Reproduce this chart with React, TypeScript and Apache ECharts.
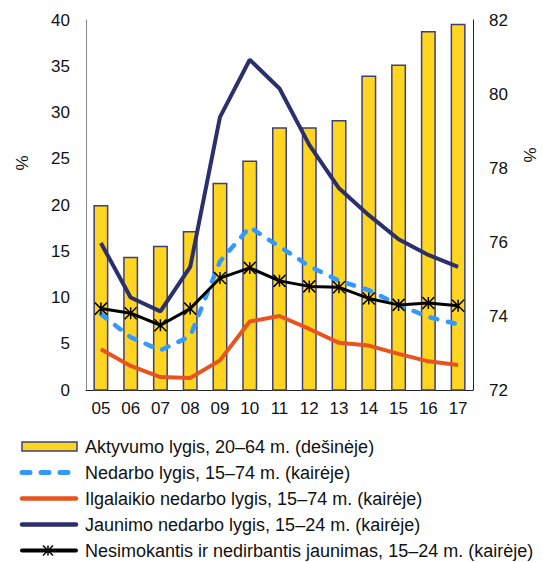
import React, { useEffect, useRef } from "react";
import * as echarts from "echarts";

const categories = ["05", "06", "07", "08", "09", "10", "11", "12", "13", "14", "15", "16", "17"];
const activityRate = [77.0, 75.6, 75.9, 76.3, 77.6, 78.2, 79.1, 79.1, 79.3, 80.5, 80.8, 81.7, 81.9];
const unemploymentRate = [8.2, 5.7, 4.3, 5.8, 13.9, 17.6, 15.5, 13.4, 11.8, 10.8, 9.2, 7.9, 7.1];
const longTermUnemployment = [4.4, 2.6, 1.4, 1.3, 3.2, 7.4, 8.0, 6.6, 5.1, 4.8, 3.9, 3.1, 2.7];
const youthUnemployment = [15.9, 10.0, 8.5, 13.3, 29.5, 35.7, 32.6, 26.5, 21.8, 18.9, 16.3, 14.6, 13.3];
const neetRate = [8.8, 8.3, 7.0, 8.8, 12.1, 13.2, 11.8, 11.2, 11.1, 9.9, 9.2, 9.4, 9.1];

const seriesNames = [
  "Aktyvumo lygis, 20–64 m. (dešinėje)",
  "Nedarbo lygis, 15–74 m. (kairėje)",
  "Ilgalaikio nedarbo lygis, 15–74 m. (kairėje)",
  "Jaunimo nedarbo lygis, 15–24 m. (kairėje)",
  "Nesimokantis ir nedirbantis jaunimas, 15–24 m. (kairėje)",
];

const FONT = "Liberation Sans, Arial, sans-serif";
const GOLD = "#FFD520";
const BAR_BORDER = "#3C4077";
const BLUE = "#3399FF";
const ORANGE = "#E8531E";
const NAVY = "#2B2F6B";
const STAR = "path://M0 0L10 10M10 0L0 10M5 0L5 10";

function buildLegend() {
  const els: any[] = [];
  const x0 = 20;
  const x1 = 76;
  const textX = 85;
  seriesNames.forEach((name, i) => {
    const y = 446.5 + 26 * i;
    if (i === 0) {
      els.push({
        type: "rect",
        shape: { x: 22, y: y - 4.5, width: 55, height: 9 },
        style: { fill: GOLD, stroke: BAR_BORDER, lineWidth: 1.5 },
      });
    } else if (i === 1) {
      els.push({
        type: "line",
        shape: { x1: x0 + 2, y1: y, x2: x1, y2: y },
        style: { stroke: BLUE, lineWidth: 5, lineCap: "round", lineDash: [8, 11] },
      });
    } else if (i === 2 || i === 3) {
      els.push({
        type: "line",
        shape: { x1: x0 + 2, y1: y, x2: x1, y2: y },
        style: { stroke: i === 2 ? ORANGE : NAVY, lineWidth: 4.5, lineCap: "round" },
      });
    } else {
      els.push({
        type: "line",
        shape: { x1: x0 + 2, y1: y, x2: x1, y2: y },
        style: { stroke: "#000", lineWidth: 4, lineCap: "round" },
      });
      const cx = 48;
      const s = 5;
      els.push(
        { type: "line", shape: { x1: cx - s, y1: y - s, x2: cx + s, y2: y + s }, style: { stroke: "#000", lineWidth: 1.5 } },
        { type: "line", shape: { x1: cx + s, y1: y - s, x2: cx - s, y2: y + s }, style: { stroke: "#000", lineWidth: 1.5 } },
        { type: "line", shape: { x1: cx, y1: y - s, x2: cx, y2: y + s }, style: { stroke: "#000", lineWidth: 1.5 } }
      );
    }
    els.push({
      type: "text",
      x: textX,
      y,
      style: { text: name, fontSize: 18, fontFamily: FONT, fill: "#111", verticalAlign: "middle", align: "left" },
    });
  });
  return els;
}

export default function App() {
  const ref = useRef<HTMLDivElement>(null);
  useEffect(() => {
    if (!ref.current) return;
    const chart = echarts.init(ref.current, null, { renderer: "svg" });
    chart.setOption({
      animation: false,
      grid: { left: 86, right: 70, top: 20, bottom: 172, containLabel: false },
      xAxis: {
        type: "category",
        data: categories,
        axisLine: { lineStyle: { color: "#222", width: 1 } },
        axisTick: { show: false },
        axisLabel: { color: "#111", fontSize: 17, fontFamily: FONT, margin: 10 },
      },
      yAxis: [
        {
          type: "value",
          min: 0,
          max: 40,
          interval: 5,
          axisLine: { show: true, lineStyle: { color: "#888", width: 1 } },
          axisTick: { show: false },
          splitLine: { show: false },
          axisLabel: { color: "#111", fontSize: 17, fontFamily: FONT, margin: 16 },
        },
        {
          type: "value",
          min: 72,
          max: 82,
          interval: 2,
          position: "right",
          axisLine: { show: true, lineStyle: { color: "#222", width: 1 } },
          axisTick: { show: false },
          splitLine: { show: false },
          axisLabel: { color: "#111", fontSize: 17, fontFamily: FONT, margin: 16 },
        },
      ],
      graphic: [
        {
          type: "text",
          x: 22,
          y: 163,
          rotation: Math.PI / 2,
          style: { text: "%", fontSize: 17, fontFamily: FONT, fill: "#111", align: "center", verticalAlign: "middle" },
        },
        {
          type: "text",
          x: 530,
          y: 155,
          rotation: Math.PI / 2,
          style: { text: "%", fontSize: 17, fontFamily: FONT, fill: "#111", align: "center", verticalAlign: "middle" },
        },
        ...buildLegend(),
      ],
      series: [
        {
          name: seriesNames[0],
          type: "bar",
          yAxisIndex: 1,
          data: activityRate,
          barWidth: 15,
          itemStyle: { color: GOLD, borderColor: BAR_BORDER, borderWidth: 1.5 },
        },
        {
          name: seriesNames[1],
          type: "line",
          data: unemploymentRate,
          symbol: "none",
          lineStyle: { color: BLUE, width: 4.5, type: [7, 11], cap: "round" },
          itemStyle: { color: BLUE },
        },
        {
          name: seriesNames[2],
          type: "line",
          data: longTermUnemployment,
          symbol: "none",
          lineStyle: { color: ORANGE, width: 4 },
          itemStyle: { color: ORANGE },
        },
        {
          name: seriesNames[3],
          type: "line",
          data: youthUnemployment,
          symbol: "none",
          lineStyle: { color: NAVY, width: 4 },
          itemStyle: { color: NAVY },
        },
        {
          name: seriesNames[4],
          type: "line",
          data: neetRate,
          symbol: STAR,
          symbolSize: 12,
          lineStyle: { color: "#000", width: 3 },
          itemStyle: { color: "#000", borderColor: "#000", borderWidth: 1.5 },
        },
      ],
    });
    return () => chart.dispose();
  }, []);
  return <div ref={ref} style={{ width: 543, height: 562, position: "absolute", left: 0, top: 0 }} />;
}
